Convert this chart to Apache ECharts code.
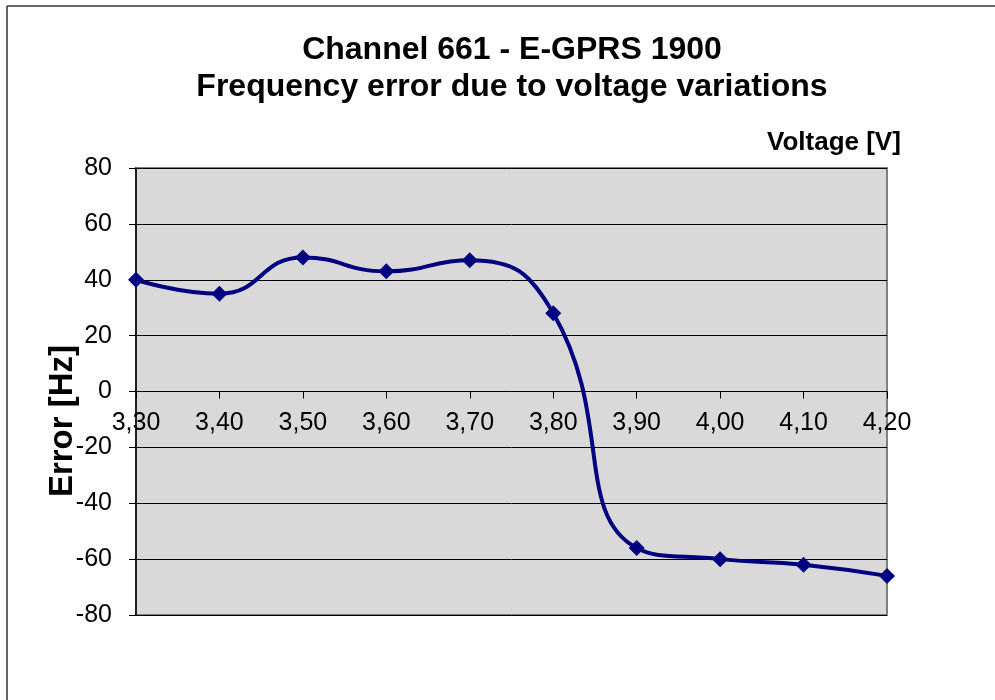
<!DOCTYPE html>
<html>
<head>
<meta charset="utf-8">
<script src="https://cdn.jsdelivr.net/npm/echarts@6/dist/echarts.min.js"></script>
<style>
html,body{margin:0;padding:0;background:#fff;}
#chart{width:995px;height:700px;}
</style>
</head>
<body>
<div id="chart"></div>
<script>
const categories = ['3,30','3,40','3,50','3,60','3,70','3,80','3,90','4,00','4,10','4,20'];
const errorValues = [40, 35, 48, 43, 47, 28, -56, -60, -62, -66];
const titleLines = ['Channel 661 - E-GPRS 1900', 'Frequency error due to voltage variations'];

const chart = echarts.init(document.getElementById('chart'), null, {renderer: 'canvas'});
const font = 'Liberation Sans, Arial, sans-serif';
chart.setOption({
  animation: false,
  backgroundColor: '#ffffff',
  title: {
    text: titleLines.join('\n'),
    left: 507, top: 27, textAlign: 'center',
    textStyle: {fontFamily: font, fontSize: 32, fontWeight: 'bold', color: '#000', lineHeight: 37}
  },
  graphic: [
    {type: 'line', shape: {x1: 7, y1: 6, x2: 995, y2: 6}, style: {stroke: '#333', lineWidth: 1.5}},
    {type: 'line', shape: {x1: 7, y1: 6, x2: 7, y2: 700}, style: {stroke: '#333', lineWidth: 1.5}},
    {type: 'text', left: 767, top: 130, style: {text: 'Voltage [V]', font: 'bold 26px ' + font, fill: '#000'}},
    {type: 'text', x: 63, y: 421, rotation: Math.PI / 2, style: {text: 'Error [Hz]', font: 'bold 33px ' + font, fill: '#000', align: 'center', verticalAlign: 'middle'}}
  ],
  grid: {
    left: 136, top: 168, width: 751, height: 447,
    show: true, backgroundColor: '#D9D9D9', borderColor: '#808080', borderWidth: 2
  },
  xAxis: {
    type: 'category',
    data: categories,
    boundaryGap: false,
    position: 'bottom',
    offset: -223.5,
    axisLine: {onZero: false, lineStyle: {color: '#000', width: 1}},
    axisTick: {show: true, inside: false, length: 7, lineStyle: {color: '#000'}, alignWithLabel: true},
    axisLabel: {fontFamily: font, fontSize: 25, color: '#000', margin: 19, interval: 0},
    splitLine: {show: false}
  },
  yAxis: {
    type: 'value',
    min: -80, max: 80, interval: 20,
    axisLine: {show: true, onZero: false, lineStyle: {color: '#000', width: 1.5}},
    axisTick: {show: true, inside: false, length: 7, lineStyle: {color: '#000'}},
    axisLabel: {fontFamily: font, fontSize: 25, color: '#000', margin: 24},
    splitLine: {show: true, lineStyle: {color: '#000', width: 1}}
  },
  series: [{
    type: 'line',
    data: errorValues,
    smooth: 0.5,
    symbol: 'diamond',
    symbolSize: 16,
    itemStyle: {color: '#000080'},
    lineStyle: {color: '#000080', width: 4},
    z: 5
  }]
});
</script>
</body>
</html>
